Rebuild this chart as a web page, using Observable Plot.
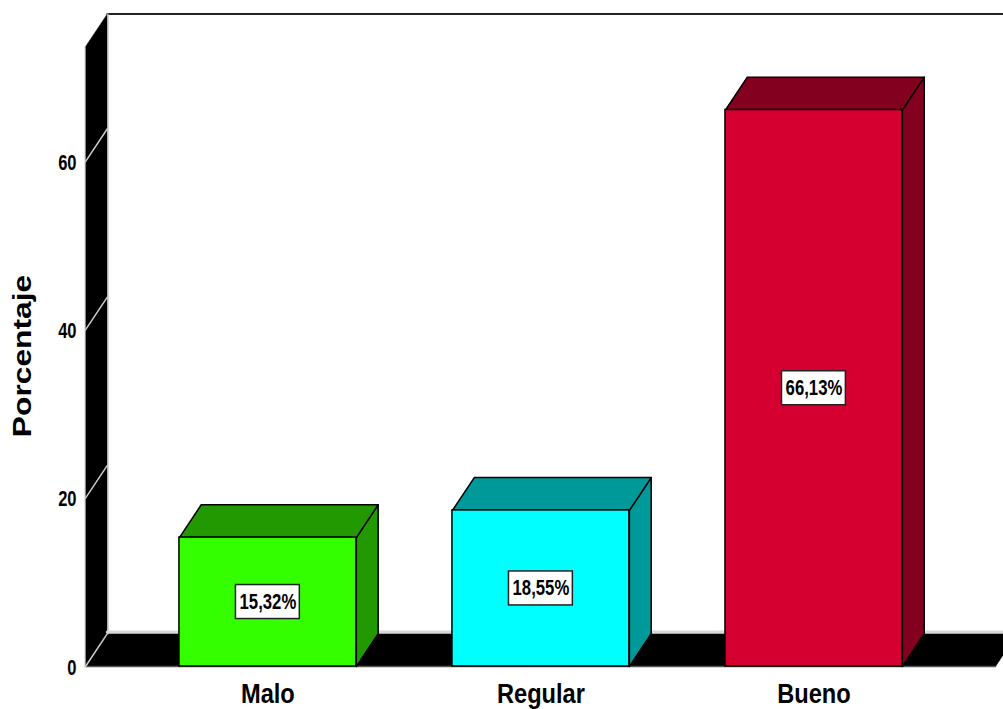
<!DOCTYPE html>
<html lang="es">
<head>
<meta charset="utf-8">
<title>Porcentaje por categoría</title>
<script src="https://cdn.jsdelivr.net/npm/d3@7"></script>
<script src="https://cdn.jsdelivr.net/npm/@observablehq/plot@0.6"></script>
<style>
  html, body { margin: 0; padding: 0; background: #fff; overflow: hidden; }
  svg { display: block; }
</style>
</head>
<body>
<div id="chart"></div>
<script>
// Chart values
const categorias = ["Malo", "Regular", "Bueno"];
const porcentajes = [15.32, 18.55, 66.13];
const etiquetas = ["15,32%", "18,55%", "66,13%"];
const coloresFrente = ["#33ff00", "#00ffff", "#d60030"];
const coloresLado = ["#229900", "#009999", "#84001f"];
const marcasY = [0, 20, 40, 60];
const tituloY = "Porcentaje";

// Extent of the drawing in data units, and the oblique depth of the 3D effect
const xMin = 0.332, xMax = 3.665, yMax = 73.65;
const profX = 0.08, profY = 3.9;
const medioAncho = 0.324;
const cajaX = 0.117, cajaY = 2.02;

const posiciones = categorias.map((_, i) => i + 1);

// Closed polygon for one face of the 3D scene
const cara = (id, color, puntos) =>
  [...puntos, puntos[0]].map(([x, y]) => ({id, color, x, y}));

const fondo = [
  ...cara("pared", "#000", [[xMin, 0], [xMin + profX, profY], [xMin + profX, yMax + profY], [xMin, yMax]]),
  ...cara("piso", "#000", [[xMin, 0], [xMax, 0], [xMax + profX, profY], [xMin + profX, profY]])
];

const caras = posiciones.flatMap((c, i) => {
  const v = porcentajes[i], a = c - medioAncho, b = c + medioAncho;
  return [
    ...cara(`lado${i}`, coloresLado[i], [[b, 0], [b + profX, profY], [b + profX, v + profY], [b, v]]),
    ...cara(`tapa${i}`, coloresLado[i], [[a, v], [b, v], [b + profX, v + profY], [a + profX, v + profY]])
  ];
});

const frentes = posiciones.map((c, i) => ({
  x1: c - medioAncho, x2: c + medioAncho, y2: porcentajes[i], color: coloresFrente[i]
}));

const rotulos = posiciones.map((c, i) => ({
  c, y: porcentajes[i] / 2, texto: etiquetas[i]
}));

const marcasPared = marcasY.flatMap(v => [
  {v, x: xMin, y: v}, {v, x: xMin + profX, y: v + profY}
]);

const fuente = "'Liberation Sans', Arial, sans-serif";

const chart = Plot.plot({
  width: 1003,
  height: 709,
  marginLeft: 85,
  marginRight: 8,
  marginTop: 46,
  marginBottom: 43,
  style: {background: "#fff"},
  x: {domain: [xMin, xMax], range: [85, 995], axis: null},
  y: {domain: [0, yMax], range: [666, 46.2], axis: null},
  color: {type: "identity"},
  marks: [
    // Back wall and floor
    Plot.line(fondo, {x: "x", y: "y", z: "id", fill: "color", stroke: "#000", strokeWidth: 0.5}),
    Plot.line([[xMin + profX, yMax + profY], [xMax + 2 * profX, yMax + profY]], {stroke: "#222", strokeWidth: 2}),
    Plot.line([[xMin + profX, profY], [xMin + profX, yMax + profY]], {stroke: "#bbb", strokeWidth: 1.5, dx: 0.5}),
    Plot.line([[xMin, 0], [xMin, yMax]], {stroke: "#ccc", strokeWidth: 1, dx: -0.5}),
    Plot.line([[xMin + profX, profY + 0.2], [xMax + 2 * profX, profY + 0.2]], {stroke: "#d8d8d8", strokeWidth: 3}),
    Plot.line([[xMin, 0], [xMax, 0]], {stroke: "#555", strokeWidth: 1.5}),
    Plot.line(marcasPared, {x: "x", y: "y", z: "v", stroke: "#ccc", strokeWidth: 1.5}),

    // Bars
    Plot.line(caras, {x: "x", y: "y", z: "id", fill: "color", stroke: "#000", strokeWidth: 1.5}),
    Plot.rect(frentes, {x1: "x1", x2: "x2", y1: 0, y2: "y2", fill: "color", stroke: "#000", strokeWidth: 1.5}),

    // Value labels
    Plot.rect(rotulos, {
      x1: d => d.c - cajaX, x2: d => d.c + cajaX,
      y1: d => d.y - cajaY, y2: d => d.y + cajaY,
      fill: "#fff", stroke: "#222", strokeWidth: 1.5
    }),
    Plot.text(rotulos, {
      x: "c", y: "y", text: "texto",
      fontFamily: fuente, fontWeight: 700, fontSize: 22, fill: "#000"
    }),

    // Axes
    Plot.axisY({
      ticks: marcasY, tickSize: 0, tickPadding: 9, label: null,
      fontFamily: fuente, fontWeight: 700, fontSize: 22, fill: "#000", dy: 1
    }),
    Plot.axisX({
      ticks: posiciones, tickSize: 0, tickPadding: 17, label: null,
      tickFormat: d => categorias[d - 1],
      fontFamily: fuente, fontWeight: 700, fontSize: 27, fill: "#000"
    }),
    Plot.text([tituloY], {
      x: xMin, y: 36.9, dx: -63, rotate: -90, text: d => d,
      fontFamily: fuente, fontWeight: 700, fontSize: 25, fill: "#000"
    })
  ]
});

document.getElementById("chart").append(chart);

// Condense or widen each kind of label to the proportions of the SPSS-style lettering
const proporciones = new Map([
  ...etiquetas.map(t => [t, 0.76]),
  ...marcasY.map(v => [String(v), 0.75]),
  ...categorias.map(c => [c, 0.875]),
  [tituloY, 1.27]
]);
chart.querySelectorAll("text").forEach(t => {
  const p = proporciones.get(t.textContent);
  if (p === undefined) return;
  t.setAttribute("textLength", t.getComputedTextLength() * p);
  t.setAttribute("lengthAdjust", "spacingAndGlyphs");
});
</script>
</body>
</html>
